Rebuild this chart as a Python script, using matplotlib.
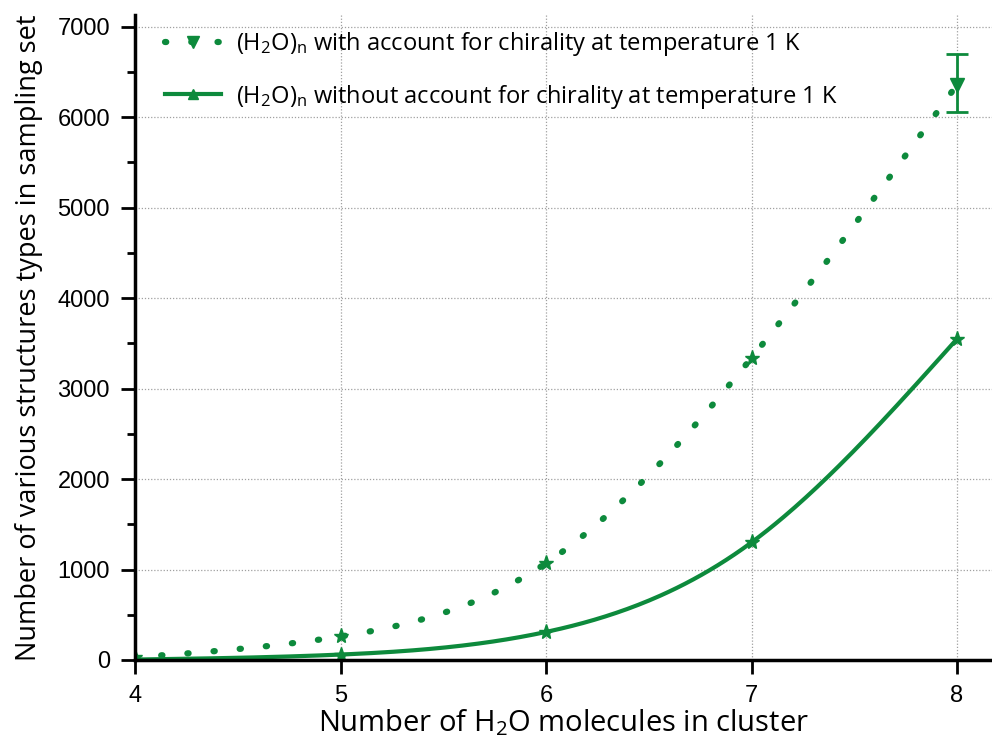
import numpy as np
import matplotlib.pyplot as plt
from matplotlib.lines import Line2D
from matplotlib.ticker import MultipleLocator

# cluster sizes and counts of distinct structure types
n_molecules = [4, 5, 6, 7, 8]
with_chirality = [30, 260, 1070, 3340, 6360]
without_chirality = [5, 60, 310, 1300, 3550]
err_low_8 = 6060
err_high_8 = 6700

GREEN = "#0d8a3c"


def natural_spline(x, y, num=300):
    x = np.asarray(x, float)
    y = np.asarray(y, float)
    n = len(x)
    h = np.diff(x)
    A = np.zeros((n, n))
    b = np.zeros(n)
    A[0, 0] = A[-1, -1] = 1
    for i in range(1, n - 1):
        A[i, i - 1] = h[i - 1]
        A[i, i] = 2 * (h[i - 1] + h[i])
        A[i, i + 1] = h[i]
        b[i] = 6 * ((y[i + 1] - y[i]) / h[i] - (y[i] - y[i - 1]) / h[i - 1])
    m = np.linalg.solve(A, b)
    xs = np.linspace(x[0], x[-1], num)
    idx = np.clip(np.searchsorted(x, xs) - 1, 0, n - 2)
    t0 = xs - x[idx]
    t1 = x[idx + 1] - xs
    hi = h[idx]
    ys = (m[idx] * t1**3 + m[idx + 1] * t0**3) / (6 * hi) \
        + (y[idx] / hi - m[idx] * hi / 6) * t1 \
        + (y[idx + 1] / hi - m[idx + 1] * hi / 6) * t0
    return xs, ys


fig = plt.figure(figsize=(9.92, 7.39), dpi=100)
ax = fig.add_axes([135 / 992, 79 / 739, 1 - 135 / 992, 645 / 739])

xs, ys = natural_spline(n_molecules, with_chirality)
ax.plot(xs, ys, color=GREEN, lw=4.5, linestyle=(0, (0.2, 4.0)),
        dash_capstyle="round")
ax.plot(n_molecules[:-1], with_chirality[:-1], "*", color=GREEN, ms=11,
        mec=GREEN)
# last point carries an error bar
ax.errorbar(n_molecules[-1], with_chirality[-1],
            yerr=[[with_chirality[-1] - err_low_8],
                  [err_high_8 - with_chirality[-1]]],
            fmt="v", color=GREEN, ms=10, capsize=8, elinewidth=2, capthick=2)

xs, ys = natural_spline(n_molecules, without_chirality)
ax.plot(xs, ys, color=GREEN, lw=3)
ax.plot(n_molecules, without_chirality, "*", color=GREEN, ms=11, mec=GREEN)

ax.set_xlim(4, 8.17)
ax.set_ylim(0, 7130)
ax.xaxis.set_major_locator(MultipleLocator(1))
ax.yaxis.set_major_locator(MultipleLocator(1000))
ax.yaxis.set_minor_locator(MultipleLocator(500))
ax.grid(True, which="major", color="#a0a0a0", linestyle=(0, (1, 1.5)), lw=0.9)
ax.set_axisbelow(True)

for side in ["top", "right"]:
    ax.spines[side].set_visible(False)
for side in ["left", "bottom"]:
    ax.spines[side].set_linewidth(2.5)

ax.tick_params(axis="both", which="major", direction="out", length=10,
               width=2, labelsize=17, pad=8)
ax.tick_params(axis="y", which="minor", direction="out", length=6, width=2)
for lab in ax.get_xticklabels() + ax.get_yticklabels():
    lab.set_family("Liberation Sans")

ax.set_xlabel(r"Number of H$\mathregular{_2}$O molecules in cluster",
              fontsize=21, family="Open Sans", labelpad=0)
ax.set_ylabel("Number of various structures types in sampling set",
              fontsize=19.5, family="Open Sans", labelpad=10)

handles = [
    Line2D([], [], color=GREEN, lw=4.5, linestyle=(0, (0.2, 4.0)),
           dash_capstyle="round", marker="v", ms=8),
    Line2D([], [], color=GREEN, lw=3, marker="^", ms=7),
]
labels = [
    r"(H$\mathregular{_2}$O)$\mathregular{_n}$ with account for chirality at temperature 1 K",
    r"(H$\mathregular{_2}$O)$\mathregular{_n}$ without account for chirality at temperature 1 K",
]
ax.legend(handles, labels, loc="upper left", bbox_to_anchor=(0.01, 1.01),
          frameon=False, handlelength=2.4, handletextpad=0.6,
          labelspacing=1.05, prop={"family": "Open Sans", "size": 17})

fig.savefig("out.png", dpi=100)
